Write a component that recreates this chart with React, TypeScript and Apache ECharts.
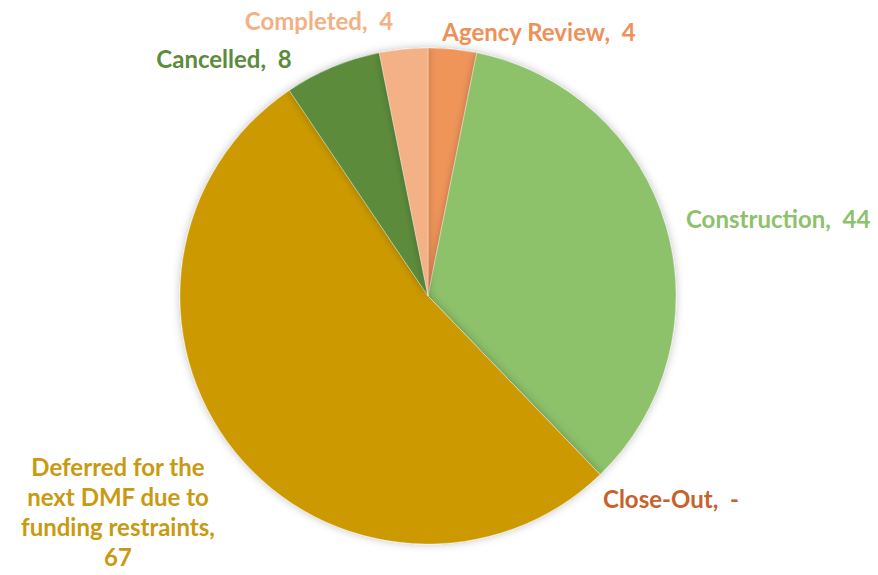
import React, { useEffect, useRef } from "react";
import * as echarts from "echarts";

const categories = [
  "Agency Review",
  "Construction",
  "Close-Out",
  "Deferred for the next DMF due to funding restraints",
  "Cancelled",
  "Completed",
];
const values = [4, 44, 0, 67, 8, 4];
const labelTexts = [
  "Agency Review,  4",
  "Construction,  44",
  "Close-Out,  -",
  "Deferred for the\nnext DMF due to\nfunding restraints,\n67",
  "Cancelled,  8",
  "Completed,  4",
];
const sliceColors = ["#F0955A", "#8DC16B", "#C6622C", "#CC9A00", "#5B8C3B", "#F3B185"];
const labelColors = ["#EE9058", "#8DC16B", "#C8622C", "#C99A10", "#5B8C3B", "#F2B184"];

const labelPos: { x: number; y: number; align: "left" | "center" }[] = [
  { x: 539, y: 31, align: "center" },
  { x: 686, y: 218, align: "left" },
  { x: 603, y: 498, align: "left" },
  { x: 118, y: 511, align: "center" },
  { x: 224, y: 58, align: "center" },
  { x: 319, y: 20, align: "center" },
];

export default function App() {
  const ref = useRef<HTMLDivElement>(null);
  useEffect(() => {
    if (!ref.current) return;
    const chart = echarts.init(ref.current, undefined, { renderer: "svg" });
    chart.setOption({
      animation: false,
      backgroundColor: "#ffffff",
      series: [
        {
          type: "pie",
          center: [428, 296],
          radius: 248,
          startAngle: 90,
          clockwise: true,
          avoidLabelOverlap: false,
          itemStyle: {
            borderColor: "rgba(255,255,255,0.6)",
            borderWidth: 0.5,
            shadowBlur: 8,
            shadowColor: "rgba(0,0,0,0.25)",
          },
          emphasis: { disabled: true },
          labelLine: { show: false },
          label: {
            show: true,
            position: "outside",
            fontFamily: "Lato",
            fontWeight: "bold",
            fontSize: 24,
            lineHeight: 30,
            formatter: (p: any) => labelTexts[p.dataIndex],
          },
          labelLayout: (p: any) => {
            const lp = labelPos[p.dataIndex];
            return { x: lp.x, y: lp.y, align: lp.align, verticalAlign: "middle" };
          },
          data: categories.map((name, i) => ({
            name,
            value: values[i],
            itemStyle: { color: sliceColors[i] },
            label: { color: labelColors[i], align: labelPos[i].align },
          })),
        },
      ],
    });
    return () => chart.dispose();
  }, []);
  return (
    <div
      ref={ref}
      style={{ position: "fixed", left: 0, top: 0, width: 878, height: 575 }}
    />
  );
}
